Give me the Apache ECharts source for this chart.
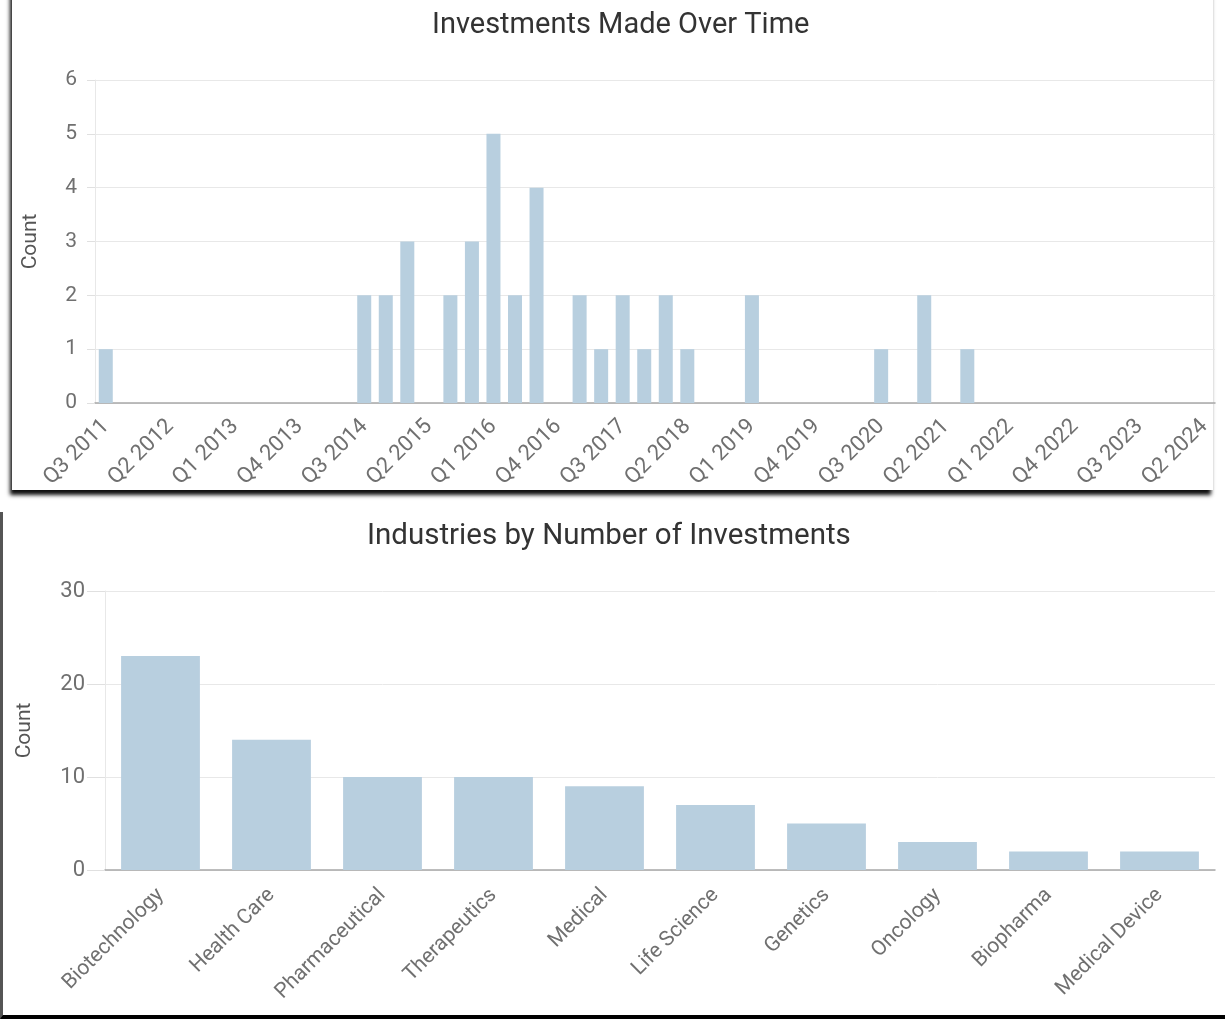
<!DOCTYPE html>
<html>
<head>
<meta charset="utf-8">
<script src="https://cdn.jsdelivr.net/npm/echarts@6/dist/echarts.min.js"></script>
<style>
  html, body { margin: 0; padding: 0; background: #fff; overflow: hidden; }
  #topCard {
    position: absolute; left: 12px; top: -20px; width: 1201px; height: 510px;
    background: #fff; box-shadow: -2px 5px 4px 0 rgba(0,0,0,0.95);
  }
  #bottomCard {
    position: absolute; left: 0; top: 512px; width: 1225px; height: 503px;
    background: #fff; border-left: 3px solid #555; border-bottom: 4px solid #000;
  }
  #chart { position: absolute; left: 0; top: 0; width: 1225px; height: 1019px; }
</style>
</head>
<body>
<div id="topCard"></div>
<div id="bottomCard"></div>
<div id="chart"></div>
<script>
// quarterly investment counts, Q3 2011 .. Q2 2024
const quarters = [
  'Q3 2011','Q4 2011',
  'Q1 2012','Q2 2012','Q3 2012','Q4 2012',
  'Q1 2013','Q2 2013','Q3 2013','Q4 2013',
  'Q1 2014','Q2 2014','Q3 2014','Q4 2014',
  'Q1 2015','Q2 2015','Q3 2015','Q4 2015',
  'Q1 2016','Q2 2016','Q3 2016','Q4 2016',
  'Q1 2017','Q2 2017','Q3 2017','Q4 2017',
  'Q1 2018','Q2 2018','Q3 2018','Q4 2018',
  'Q1 2019','Q2 2019','Q3 2019','Q4 2019',
  'Q1 2020','Q2 2020','Q3 2020','Q4 2020',
  'Q1 2021','Q2 2021','Q3 2021','Q4 2021',
  'Q1 2022','Q2 2022','Q3 2022','Q4 2022',
  'Q1 2023','Q2 2023','Q3 2023','Q4 2023',
  'Q1 2024','Q2 2024'
]
const quarterCounts = [
  1, 0,
  0, 0, 0, 0,
  0, 0, 0, 0,
  0, 0, 2, 2,
  3, 0, 2, 3,
  5, 2, 4, 0,
  2, 1, 2, 1,
  2, 1, 0, 0,
  2, 0, 0, 0,
  0, 0, 1, 0,
  2, 0, 1, 0,
  0, 0, 0, 0,
  0, 0, 0, 0,
  0, 0
]

// investments per industry
const industries = [
  'Biotechnology', 'Health Care', 'Pharmaceutical', 'Therapeutics', 'Medical',
  'Life Science', 'Genetics', 'Oncology', 'Biopharma', 'Medical Device'
]
const industryCounts = [23, 14, 10, 10, 9, 7, 5, 3, 2, 2]

const FONT = 'Roboto'
const BAR = '#b8cfdf'
const labelColor = '#707070'

const chart = echarts.init(document.getElementById('chart'), null, { renderer: 'canvas' })

const yAxisBase = {
  type: 'value',
  name: 'Count',
  nameLocation: 'middle',
  nameRotate: 90,
  nameTextStyle: { color: '#555', fontSize: 21, fontFamily: FONT },
  axisLine: { show: true, lineStyle: { color: '#e8e8e8' } },
  axisTick: { show: true, length: 8, lineStyle: { color: '#e0e0e0' } },
  axisLabel: { color: labelColor, fontSize: 21, fontFamily: FONT, margin: 18 },
  splitLine: { lineStyle: { color: '#e8e8e8' } },
}
const xAxisBase = {
  type: 'category',
  axisLine: { lineStyle: { color: '#a8a8a8', width: 1.5 } },
  axisTick: { show: false },
  axisLabel: { color: labelColor, fontSize: 22, fontFamily: FONT, rotate: 45, margin: 20 },
}

chart.setOption({
  backgroundColor: 'transparent',
  animation: false,
  title: [
    { text: 'Investments Made Over Time', left: 427, top: 6,
      textStyle: { color: '#333', fontSize: 29, fontWeight: 'normal', fontFamily: FONT } },
    { text: 'Industries by Number of Investments', left: 362, top: 517,
      textStyle: { color: '#333', fontSize: 29.5, fontWeight: 'normal', fontFamily: FONT } },
  ],
  grid: [
    { left: 95, right: 10, top: 80, bottom: 1019 - 403 },
    { left: 105, right: 10, top: 591, bottom: 1019 - 870 },
  ],
  xAxis: [
    { ...xAxisBase, gridIndex: 0, data: quarters,
      axisLabel: { ...xAxisBase.axisLabel, interval: 2 } },
    { ...xAxisBase, gridIndex: 1, data: industries,
      axisLabel: { ...xAxisBase.axisLabel, interval: 0, fontSize: 21, margin: 22 } },
  ],
  yAxis: [
    { ...yAxisBase, gridIndex: 0, min: 0, max: 6, interval: 1, nameGap: 54 },
    { ...yAxisBase, gridIndex: 1, min: 0, max: 30, interval: 10, nameGap: 70,
      axisTick: { ...yAxisBase.axisTick, length: 18 },
      axisLabel: { ...yAxisBase.axisLabel, fontSize: 22, margin: 20 } },
  ],
  series: [
    { type: 'bar', xAxisIndex: 0, yAxisIndex: 0, data: quarterCounts,
      barCategoryGap: '35%', itemStyle: { color: BAR } },
    { type: 'bar', xAxisIndex: 1, yAxisIndex: 1, data: industryCounts,
      barCategoryGap: '29%', itemStyle: { color: BAR } },
  ],
})
</script>
</body>
</html>
